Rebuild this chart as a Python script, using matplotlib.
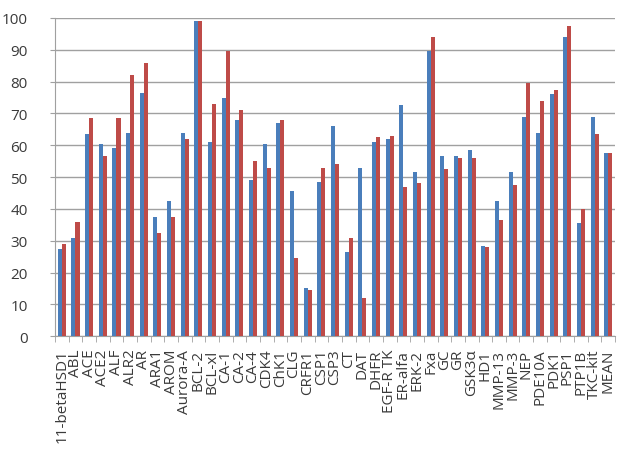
import numpy as np
import matplotlib
matplotlib.use("Agg")
import matplotlib.pyplot as plt

plt.rcParams['font.family'] = ['Open Sans', 'DejaVu Sans']

targets = ["11-betaHSD1", "ABL", "ACE", "ACE2", "ALF", "ALR2", "AR", "ARA1", "AROM",
           "Aurora-A", "BCL-2", "BCL-xl", "CA-1", "CA-2", "CA-4", "CDK4", "ChK1", "CLG",
           "CRFR1", "CSP1", "CSP3", "CT", "DAT", "DHFR", "EGF-R TK", "ER-alfa", "ERK-2",
           "Fxa", "GC", "GR", "GSK3α", "HD1", "MMP-13", "MMP-3", "NEP", "PDE10A", "PDK1",
           "PSP1", "PTP1B", "TKC-kit", "MEAN"]
blue_vals = [27.5, 31, 63.5, 60.5, 59, 64, 76.5, 37.5, 42.5, 64, 99, 61, 75, 68, 49,
             60.5, 67, 45.5, 15, 48.5, 66, 26.5, 53, 61, 62, 72.5, 51.5, 89.5, 56.5,
             56.5, 58.5, 28.5, 42.5, 51.5, 69, 64, 76, 94, 35.5, 69, 57.5]
red_vals = [29, 36, 68.5, 56.5, 68.5, 82, 86, 32.5, 37.5, 62, 99, 73, 89.5, 71, 55,
            53, 68, 24.5, 14.5, 53, 54, 31, 12, 62.5, 63, 47, 48, 94, 52.5, 56, 56,
            28, 36.5, 47.5, 79.5, 74, 77.5, 97.5, 40, 63.5, 57.5]

x = np.arange(len(targets))
w = 0.3

fig = plt.figure(figsize=(6.17, 4.52), dpi=100)
ax = fig.add_axes([0.089, 0.254, 0.908, 0.704])

ax.bar(x - w/2, blue_vals, w, color="#4A7EBB", zorder=3)
ax.bar(x + w/2, red_vals, w, color="#BE4B48", zorder=3)

ax.set_ylim(0, 100)
ax.set_yticks(range(0, 101, 10))
ax.set_xlim(-0.5, len(targets) - 0.5)
ax.yaxis.grid(True, color="#A0A0A0", linewidth=1)
ax.set_axisbelow(True)

ax.set_xticks(x)
ax.set_xticklabels(targets, rotation=90)
ax.set_xticks(np.arange(-0.5, len(targets)), minor=True)
ax.tick_params(axis="x", which="major", length=0, pad=9, labelsize=11, labelcolor="#3A3A3A")
ax.tick_params(axis="x", which="minor", length=4.5, color="#A0A0A0")
ax.tick_params(axis="y", length=3.6, pad=16, color="#A0A0A0", labelsize=11, labelcolor="#3A3A3A")

for s in ["top", "right"]:
    ax.spines[s].set_visible(False)
ax.spines["left"].set_color("#A0A0A0")
ax.spines["bottom"].set_color("#A0A0A0")

fig.savefig("out.png", dpi=100)
